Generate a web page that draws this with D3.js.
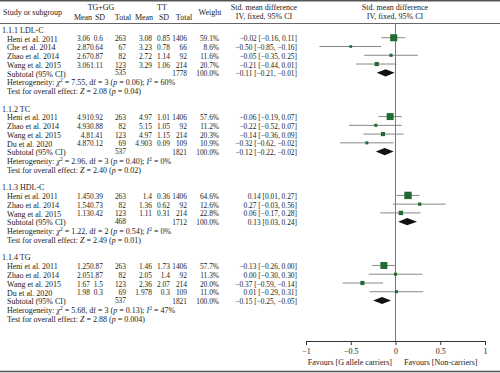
<!DOCTYPE html>
<html>
<head>
<meta charset="utf-8">
<script src="https://cdn.jsdelivr.net/npm/d3@7"></script>
<style>
  body { margin: 0; background: #fff; }
  svg text { font-family: "Liberation Serif", "DejaVu Serif", serif; fill: #222; }
</style>
</head>
<body>
<svg id="chart"></svg>
<script>
var width = 500;
var height = 373;

// section titles
var sections = ["1.1.1 LDL-C", "1.1.2 TC", "1.1.3 HDL-C", "1.1.4 TG"];

// studies per section: name, TG+GG mean/sd/n, TT mean/sd/n, weight, smd, lo, hi
var ldlStudies = [
  ["Heni et al. 2011", 3.06, 0.6, 263, 3.08, 0.85, 1406, 59.1, -0.02, -0.16, 0.11],
  ["Che et al. 2014", 2.87, 0.64, 67, 3.23, 0.78, 66, 8.6, -0.50, -0.85, -0.16],
  ["Zhao et al. 2014", 2.67, 0.87, 82, 2.72, 1.14, 92, 11.6, -0.05, -0.35, 0.25],
  ["Wang et al. 2015", 3.06, 1.11, 123, 3.29, 1.06, 214, 20.7, -0.21, -0.44, 0.01]
];
var tcStudies = [
  ["Heni et al. 2011", 4.91, 0.92, 263, 4.97, 1.01, 1406, 57.6, -0.06, -0.19, 0.07],
  ["Zhao et al. 2014", 4.93, 0.88, 82, 5.15, 1.05, 92, 11.2, -0.22, -0.52, 0.07],
  ["Wang et al. 2015", 4.8, 1.41, 123, 4.97, 1.15, 214, 20.3, -0.14, -0.36, 0.09],
  ["Du et al. 2020", 4.87, 0.12, 69, 4.903, 0.09, 109, 10.9, -0.32, -0.62, -0.02]
];
var hdlStudies = [
  ["Heni et al. 2011", 1.45, 0.39, 263, 1.4, 0.36, 1406, 64.6, 0.14, 0.01, 0.27],
  ["Zhao et al. 2014", 1.54, 0.73, 82, 1.36, 0.62, 92, 12.6, 0.27, -0.03, 0.56],
  ["Wang et al. 2015", 1.13, 0.42, 123, 1.11, 0.31, 214, 22.8, 0.06, -0.17, 0.28]
];
var tgStudies = [
  ["Heni et al. 2011", 1.25, 0.87, 263, 1.46, 1.73, 1406, 57.7, -0.13, -0.26, 0.00],
  ["Zhao et al. 2014", 2.05, 1.87, 82, 2.05, 1.4, 92, 11.3, 0.00, -0.30, 0.30],
  ["Wang et al. 2015", 1.67, 1.5, 123, 2.36, 2.07, 214, 20.0, -0.37, -0.59, -0.14],
  ["Du et al. 2020", 1.98, 0.3, 69, 1.978, 0.3, 109, 11.0, 0.01, -0.29, 0.31]
];
var allStudies = [ldlStudies, tcStudies, hdlStudies, tgStudies];

// subtotal: n1, n2, smd, lo, hi
var subtotals = [
  [535, 1778, -0.11, -0.21, -0.01],
  [537, 1821, -0.12, -0.22, -0.02],
  [468, 1712, 0.13, 0.03, 0.24],
  [537, 1821, -0.15, -0.25, -0.05]
];
// heterogeneity: chi2, df, p, I2
var heterogeneity = [
  ["7.55", 3, "0.06", 60],
  ["2.96", 3, "0.40", 0],
  ["1.22", 2, "0.54", 0],
  ["5.68", 3, "0.13", 47]
];
// overall effect: Z, p
var overall = [
  ["2.08", "0.04"],
  ["2.40", "0.02"],
  ["2.49", "0.01"],
  ["2.88", "0.004"]
];

var axisTicks = [-1, -0.5, 0, 0.5, 1];

var svg = d3.select("#chart")
  .attr("width", width)
  .attr("height", height);

var x = d3.scaleLinear().domain([-1, 1]).range([306, 485]);
var y = d3.scaleLinear().domain([0, 33]).range([30, 319]);
var boxSize = d3.scaleSqrt().domain([0, 100]).range([0, 9.2]);

var fs = 8;
var nfs = 7.4; // numbers
var minus = function(v, dec) {
  var s = dec == null ? String(Math.abs(v)) : Math.abs(v).toFixed(dec);
  return (v < 0 ? "\u2212" : "") + s;
}

var txt = function(xx, yy, s, anchor, size) {
  return svg.append("text")
    .attr("x", xx)
    .attr("y", yy)
    .attr("dy", "0.35em")
    .attr("font-size", size || fs)
    .attr("text-anchor", anchor || "start")
    .text(s);
}

// frame lines
svg.append("line").attr("x1", 0).attr("x2", width).attr("y1", 0.75).attr("y2", 0.75)
  .attr("stroke", "#555").attr("stroke-width", 1.5);
svg.append("line").attr("x1", 0).attr("x2", width).attr("y1", 23.5).attr("y2", 23.5)
  .attr("stroke", "#666").attr("stroke-width", 1);
svg.append("line").attr("x1", 0).attr("x2", width).attr("y1", 371.5).attr("y2", 371.5)
  .attr("stroke", "#555").attr("stroke-width", 1.5);

// header
txt(3, 12, "Study or subgroup");
txt(101, 7, "TG+GG", "middle");
txt(162, 7, "TT", "middle");
txt(83, 17, "Mean", "middle");
txt(100, 17, "SD", "middle");
txt(123, 17, "Total", "middle");
txt(144, 17, "Mean", "middle");
txt(164, 17, "SD", "middle");
txt(184, 17, "Total", "middle");
txt(210, 12, "Weight", "middle");
txt(264, 7, "Std. mean difference", "middle");
txt(264, 16, "IV, fixed, 95% CI", "middle");
txt(395, 7, "Std. mean difference", "middle");
txt(395, 16, "IV, fixed, 95% CI", "middle");

// zero line
svg.append("line")
  .attr("x1", x(0)).attr("x2", x(0))
  .attr("y1", 23.5).attr("y2", 341)
  .attr("stroke", "#777").attr("stroke-width", 1);

var cols = [90, 103, 126, 152, 170, 187];
var row = 0;

sections.forEach(function(title, si) {
  txt(2, y(row), title);
  row++;
  allStudies[si].forEach(function(d) {
    var yy = y(row);
    txt(7, yy, d[0]);
    for (var k = 0; k < 6; k++) {
      txt(cols[k], yy, String(d[k + 1]), "end", nfs);
    }
    txt(219, yy, d[7].toFixed(1) + "%", "end", nfs);
    txt(297, yy, minus(d[8], 2) + " [" + minus(d[9], 2) + ", " + minus(d[10], 2) + "]", "end", nfs);

    var ym = yy - 1;
    svg.append("line")
      .attr("x1", x(d[9])).attr("x2", x(d[10]))
      .attr("y1", ym).attr("y2", ym)
      .attr("stroke", "#888").attr("stroke-width", 1);
    var s = boxSize(d[7]);
    svg.append("rect")
      .attr("x", x(d[8]) - s / 2)
      .attr("y", ym - s / 2)
      .attr("width", s)
      .attr("height", s)
      .attr("fill", "#1f6b32");
    row++;
  });

  var st = subtotals[si];
  var ys = y(row);
  txt(7, ys, "Subtotal (95% CI)");
  txt(cols[2], ys - 1, String(st[0]), "end", nfs);
  txt(cols[5], ys, String(st[1]), "end", nfs);
  txt(219, ys, "100.0%", "end", nfs);
  txt(297, ys, minus(st[2], 2) + " [" + minus(st[3], 2) + ", " + minus(st[4], 2) + "]", "end", nfs);
  var yd = ys - 1;
  svg.append("path")
    .attr("d", "M" + x(st[3]) + "," + yd + "L" + x(st[2]) + "," + (yd - 3.6) +
      "L" + x(st[4]) + "," + yd + "L" + x(st[2]) + "," + (yd + 3.6) + "Z")
    .attr("fill", "#111");
  row++;

  var h = heterogeneity[si];
  var t = txt(7, y(row), "Heterogeneity: ");
  t.append("tspan").attr("font-style", "italic").text("\u03c7");
  t.append("tspan").attr("font-size", 5.5).attr("dy", -3).text("2");
  t.append("tspan").attr("dy", 3).text(" = " + h[0] + ", df = " + h[1] + " (");
  t.append("tspan").attr("font-style", "italic").text("p");
  t.append("tspan").text(" = " + h[2] + "); ");
  t.append("tspan").attr("font-style", "italic").text("I");
  t.append("tspan").attr("font-size", 5.5).attr("dy", -3).text("2");
  t.append("tspan").attr("dy", 3).text(" = " + h[3] + "%");
  row++;

  var o = overall[si];
  var t2 = txt(7, y(row), "Test for overall effect: ");
  t2.append("tspan").attr("font-style", "italic").text("Z");
  t2.append("tspan").text(" = " + o[0] + " (");
  t2.append("tspan").attr("font-style", "italic").text("p");
  t2.append("tspan").text(" = " + o[1] + ")");
  row += 2;
});

// axis
var axis = d3.axisBottom(x)
  .tickValues(axisTicks)
  .tickSize(4)
  .tickFormat(function(d) { return d === 0 ? "0" : minus(d); });

var gAxis = svg.append("g")
  .attr("transform", "translate(0,341)")
  .call(axis);
gAxis.select(".domain").attr("stroke", "#333");
gAxis.selectAll(".tick line").attr("stroke", "#333");
gAxis.selectAll(".tick text")
  .attr("font-family", "Liberation Serif, serif")
  .attr("font-size", fs)
  .attr("fill", "#222")
  .attr("y", 7);

txt(392, 362, "Favours [G allele carriers]", "end");
txt(404, 362, "Favours [Non-carriers]", "start");
</script>
</body>
</html>
